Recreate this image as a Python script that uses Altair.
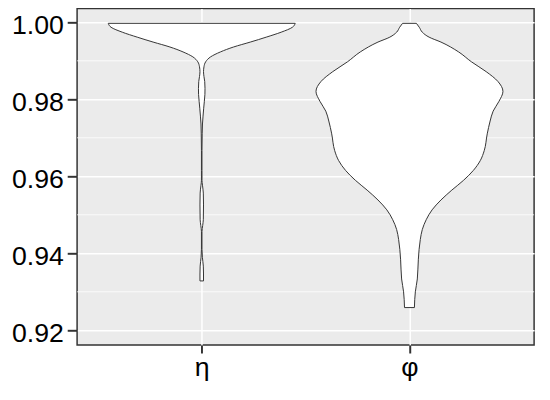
import altair as alt
import pandas as pd

categories = ["η", "φ"]

# eta violin: value (y) and relative half-width (1 = widest)
eta_values = [0.99974, 0.99872, 0.99744, 0.99615, 0.99487, 0.99359, 0.99231, 0.99103,
              0.98974, 0.98846, 0.98718, 0.98590, 0.98462, 0.98282, 0.98128, 0.97949,
              0.97769, 0.97564, 0.97359, 0.97103, 0.96667, 0.96154, 0.95897, 0.95769,
              0.95564, 0.95256, 0.94872, 0.94718, 0.94564, 0.94103, 0.93897, 0.93667,
              0.93462, 0.93282]
eta_width = [1.00, 0.97, 0.85, 0.69, 0.52, 0.34, 0.20, 0.095, 0.042, 0.024, 0.019, 0.024,
             0.032, 0.035, 0.034, 0.028, 0.021, 0.014, 0.008, 0.005, 0.003, 0.003, 0.003,
             0.008, 0.017, 0.019, 0.017, 0.010, 0.003, 0.003, 0.007, 0.017, 0.019, 0.019]

# phi violin
phi_values = [0.99974, 0.99872, 0.99744, 0.99615, 0.99487, 0.99231, 0.98974, 0.98718,
              0.98462, 0.98205, 0.97949, 0.97692, 0.97436, 0.97103, 0.96667, 0.96410,
              0.96154, 0.95897, 0.95641, 0.95385, 0.95128, 0.94872, 0.94615, 0.94359,
              0.93846, 0.93333, 0.93000, 0.92590]
phi_width = [0.074, 0.105, 0.137, 0.21, 0.337, 0.526, 0.663, 0.821, 0.947, 1.0, 0.958,
             0.895, 0.863, 0.832, 0.80, 0.758, 0.684, 0.579, 0.453, 0.337, 0.242, 0.179,
             0.137, 0.116, 0.095, 0.084, 0.063, 0.053]

y_major = [0.92, 0.94, 0.96, 0.98, 1.00]
y_minor = [0.93, 0.95, 0.97, 0.99]

rows = []
for i, (vals, wids) in enumerate([(eta_values, eta_width), (phi_values, phi_width)]):
    for v, w in zip(vals, wids):
        rows.append({"cat": categories[i], "pos": i + 1, "value": v, "width": w})
df = pd.DataFrame(rows)

xscale = alt.Scale(domain=[0.4, 2.6], nice=False, zero=False)
yscale = alt.Scale(domain=[0.91615, 1.00359], nice=False, zero=False)

label_expr = " : ".join(
    [f"datum.value == {i + 1} ? '{c}'" for i, c in enumerate(categories[:-1])]
) + f" : '{categories[-1]}'"

font = "Liberation Sans"

y_axis = alt.Axis(
    values=y_major, format=".2f", title=None, domain=False,
    grid=True, gridColor="white", gridWidth=1.5,
    tickColor="#333333", tickWidth=2, tickSize=10,
    labelFont=font, labelFontSize=27, labelColor="black", labelPadding=4,
    labelOffset=3,
)

minor = alt.Chart(pd.DataFrame({"y": y_minor})).mark_rule(
    color="white", strokeWidth=0.8
).encode(y=alt.Y("y:Q", scale=yscale, axis=y_axis))

violin = alt.Chart(df).transform_calculate(
    left="datum.pos - 0.45 * datum.width",
    right="datum.pos + 0.45 * datum.width",
).mark_area(
    orient="horizontal", fill="white", stroke="#333333", strokeWidth=1,
    interpolate="monotone"
).encode(
    y=alt.Y("value:Q", scale=yscale, axis=y_axis),
    x=alt.X("left:Q", scale=xscale, axis=alt.Axis(
        values=[1, 2], labelExpr=label_expr, title=None, domain=False,
        grid=True, gridColor="white", gridWidth=1.5,
        tickColor="#333333", tickWidth=2, tickSize=8,
        labelFont=font, labelFontSize=27, labelColor="black", labelPadding=2,
    )),
    x2="right:Q",
    detail="cat:N",
)

chart = alt.layer(minor, violin).properties(
    width=463, height=341,
    autosize=alt.AutoSizeParams(type="none"),
    padding={"left": 70, "top": -2, "right": 8, "bottom": 45},
).configure_view(
    fill="#EBEBEB", stroke="#333333", strokeWidth=1.5
)

chart.save("out.html", embed_options={"renderer": "svg", "actions": False})
